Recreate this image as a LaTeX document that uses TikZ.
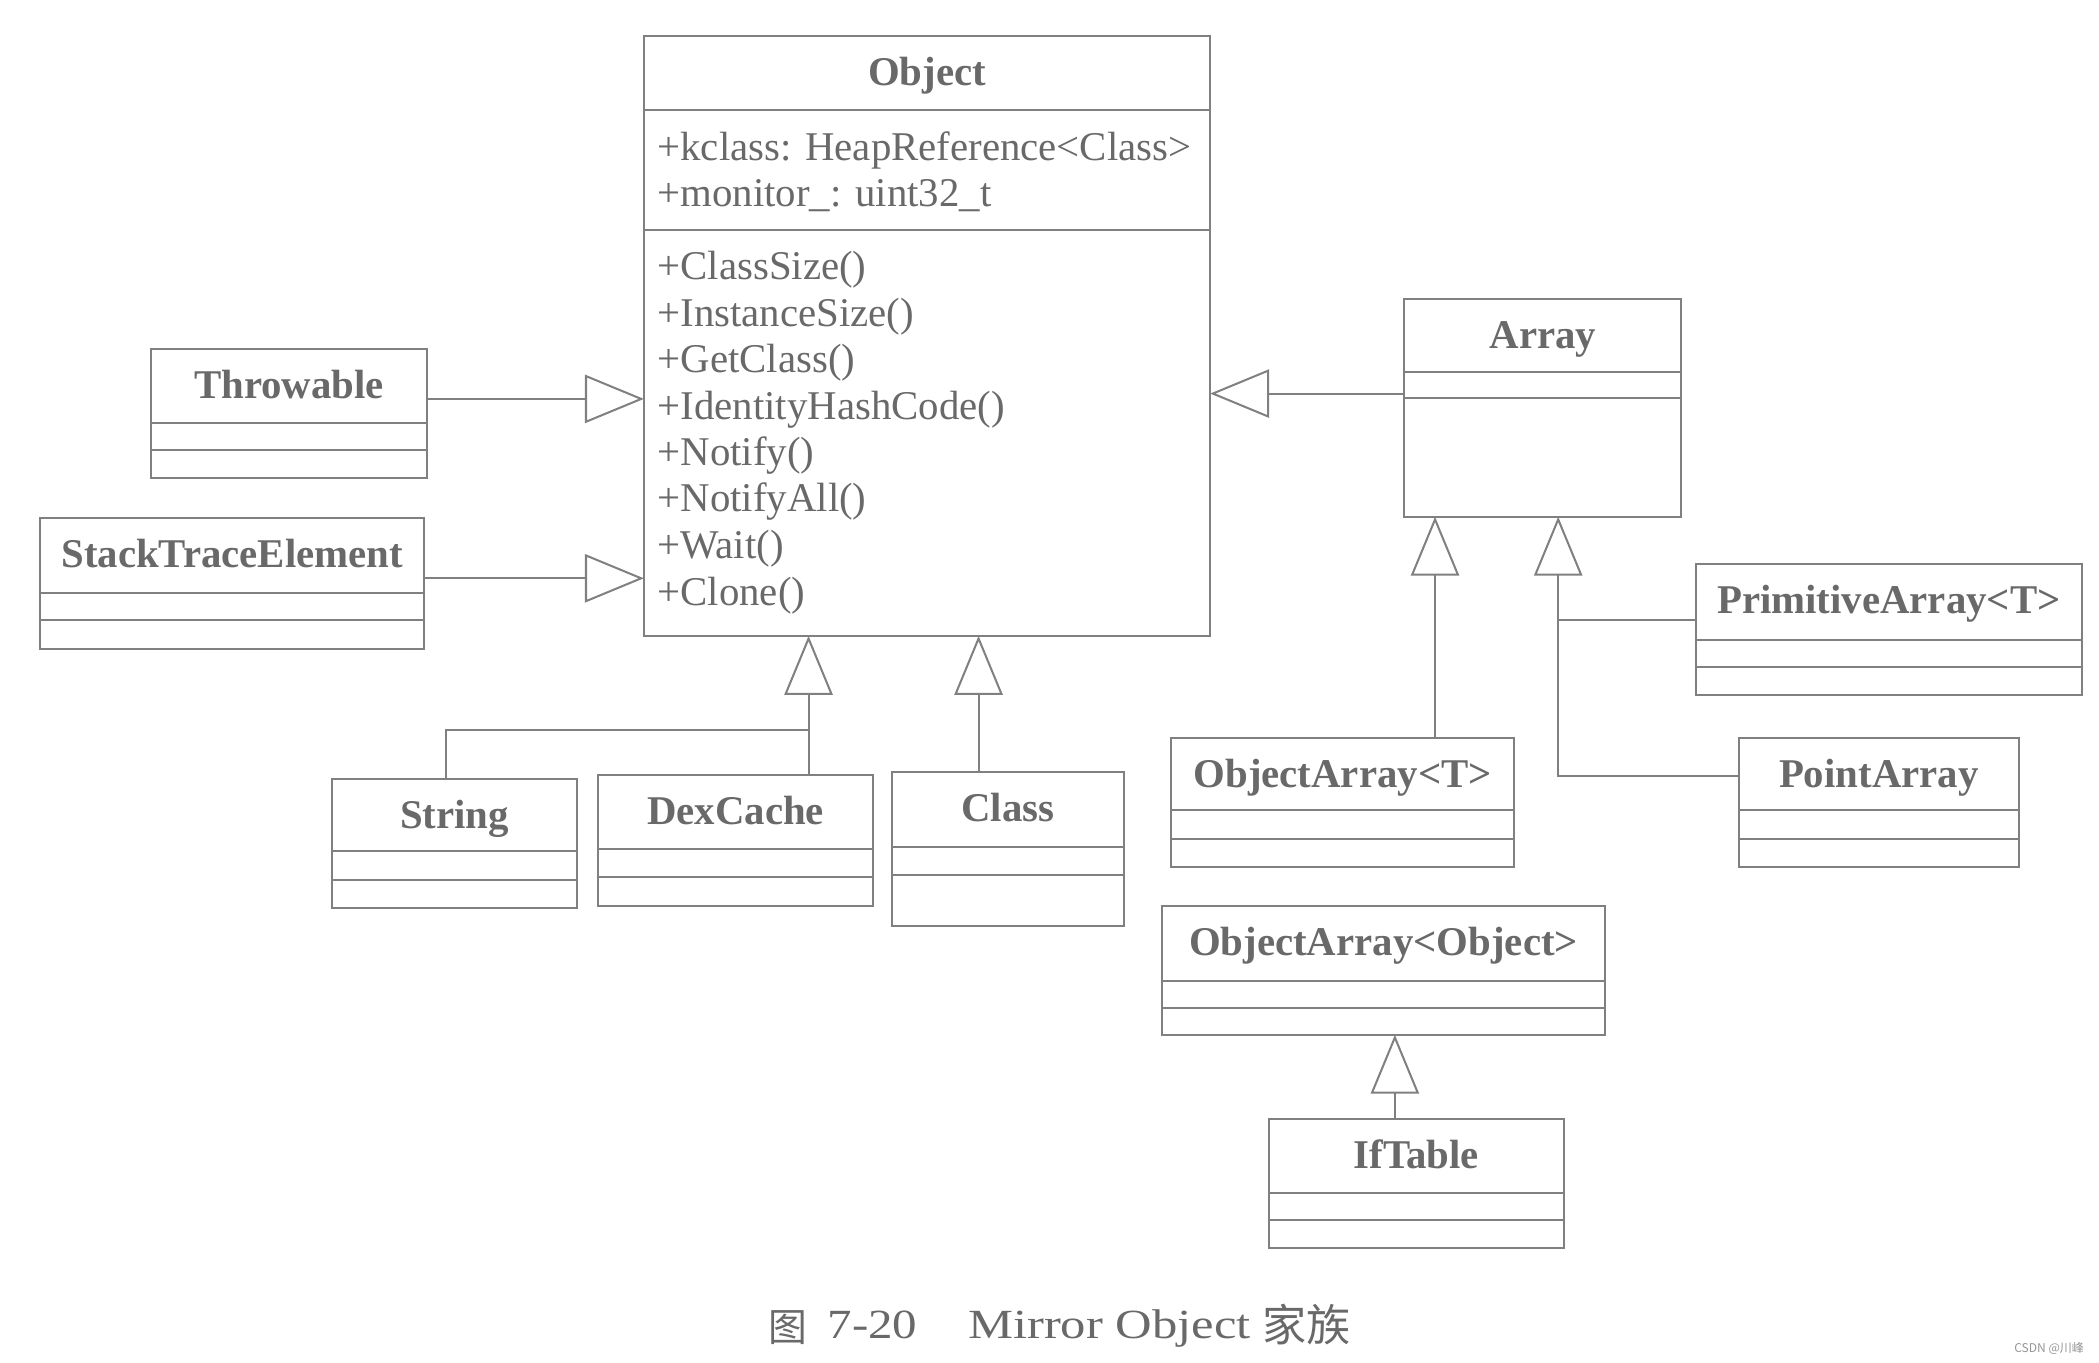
\documentclass[tikz,border=0pt]{standalone}
\usepackage{fontspec}
\usepackage{graphicx}
\setmainfont{Liberation Serif}
\newfontfamily\cjk{Noto Sans CJK SC}
\usetikzlibrary{arrows.meta,calc}
\definecolor{lc}{RGB}{128,128,128}
\definecolor{tc}{RGB}{105,105,105}
\tikzset{
  clsbox/.style={draw=lc, line width=1.5pt, inner sep=0pt, outer sep=0pt, anchor=north west},
  ttl/.style={font=\fontsize{30.5}{36}\selectfont\bfseries, text=tc, anchor=base, inner sep=0pt},
  mbr/.style={font=\fontsize{30.5}{36}\selectfont, text=tc, anchor=base west, inner sep=0pt},
  sepline/.style={draw=lc, line width=1.5pt},
  conn/.style={draw=lc, line width=1.5pt},
  gen/.style={conn, -{Triangle[open, length=44pt, width=36pt]}},
  captxt/.style={anchor=base west, inner sep=0pt, text=tc},
}
\newcommand\umlclass[8]{%
  \node[clsbox, minimum width={(#4-#2)*1pt}, minimum height={(#5-#3)*1pt}] (#1) at (#2,#3) {};
  \node[ttl] (#1-t) at ($(#1.north)+(0,37)$) {#6};
  \draw[sepline] ($(#1.north west)+(0,#7)$) -- ($(#1.north east)+(0,#7)$);
  \draw[sepline] ($(#1.north west)+(0,#8)$) -- ($(#1.north east)+(0,#8)$);
}
\begin{document}
\begin{tikzpicture}[x=1pt, y=-1pt]
\useasboundingbox[fill=white] (0,0) rectangle (1568,1018);

% classes
\umlclass{obj}{481}{27}{904}{475}{Object}{55}{145}
\umlclass{thr}{113}{261}{319}{357}{Throwable}{55}{75}
\umlclass{ste}{30}{387}{317}{485}{StackTraceElement}{56}{76}
\umlclass{str}{248}{582}{431}{678}{String}{54}{75}
\umlclass{dex}{447}{579}{652}{677}{DexCache}{55}{76}
\umlclass{cls}{666}{577}{840}{692}{Class}{56}{77}
\umlclass{arr}{1049}{223}{1256}{386}{Array}{55}{74}
\umlclass{prim}{1267}{421}{1555}{519}{PrimitiveArray<T>}{57}{77}
\umlclass{pnt}{1299}{551}{1508}{648}{PointArray}{54}{76}
\umlclass{oat}{875}{551}{1131}{648}{ObjectArray<T>}{54}{76}
\umlclass{oao}{868}{677}{1199}{773}{ObjectArray<Object>}{56}{76}
\umlclass{ift}{948}{836}{1168}{932}{IfTable}{55}{75}

% Object members
\node[mbr] (a1) at (491,120) {+kclass: HeapReference<Class>};
\node[mbr] (a2) at (491,154) {+monitor\_: uint32\_t};
\node[mbr] (m1) at (491,209) {+ClassSize()};
\node[mbr] (m2) at (491,244) {+InstanceSize()};
\node[mbr] (m3) at (491,278) {+GetClass()};
\node[mbr] (m4) at (491,313) {+IdentityHashCode()};
\node[mbr] (m5) at (491,348) {+Notify()};
\node[mbr] (m6) at (491,382) {+NotifyAll()};
\node[mbr] (m7) at (491,417) {+Wait()};
\node[mbr] (m8) at (491,452) {+Clone()};

% helper coordinates
\coordinate (yThr) at (0,298);
\coordinate (ySte) at (0,432);
\coordinate (yArr) at (0,294);
\coordinate (xDex) at (604,0);
\coordinate (xStr) at (333,0);
\coordinate (xCls) at (731,0);
\coordinate (xOat) at (1072,0);
\coordinate (xArr2) at (1164,0);
\coordinate (yPrim) at (0,463);
\coordinate (yPnt) at (0,580);
\coordinate (xIft) at (1042,0);
\coordinate (j1) at (604,545);

% connectors
\draw[gen] (thr.east |- yThr) -- (obj.west |- yThr);
\draw[gen] (ste.east |- ySte) -- (obj.west |- ySte);
\draw[gen] (arr.west |- yArr) -- (obj.east |- yArr);
\draw[gen] (dex.north -| xDex) -- (obj.south -| xDex);
\draw[conn] (str.north -| xStr) |- (j1);
\draw[gen] (cls.north -| xCls) -- (obj.south -| xCls);
\draw[gen] (oat.north -| xOat) -- (arr.south -| xOat);
\draw[gen] (pnt.west |- yPnt) -| (arr.south -| xArr2);
\draw[conn] (prim.west |- yPrim) -- (xArr2 |- yPrim);
\draw[gen] (ift.north -| xIft) -- (oao.south -| xIft);

% caption
\node[captxt, font=\fontsize{29}{34}\selectfont\cjk] (cap1) at (574,1002) {图};
\node[captxt, font=\fontsize{31}{36}\selectfont] (cap2) at (618,1000) {\scalebox{1.18}[1]{7-20}};
\node[captxt, font=\fontsize{31}{36}\selectfont] (cap3) at (723,1000) {\scalebox{1.22}[1]{Mirror Object}};
\node[captxt, font=\fontsize{33}{40}\selectfont\cjk] (cap4) at (943,1002) {家族};
\node[anchor=base east, inner sep=0pt, text=tc!70, font=\fontsize{9}{11}\selectfont\cjk] (wm) at (1557,1010) {CSDN @川峰};
\end{tikzpicture}
\end{document}
